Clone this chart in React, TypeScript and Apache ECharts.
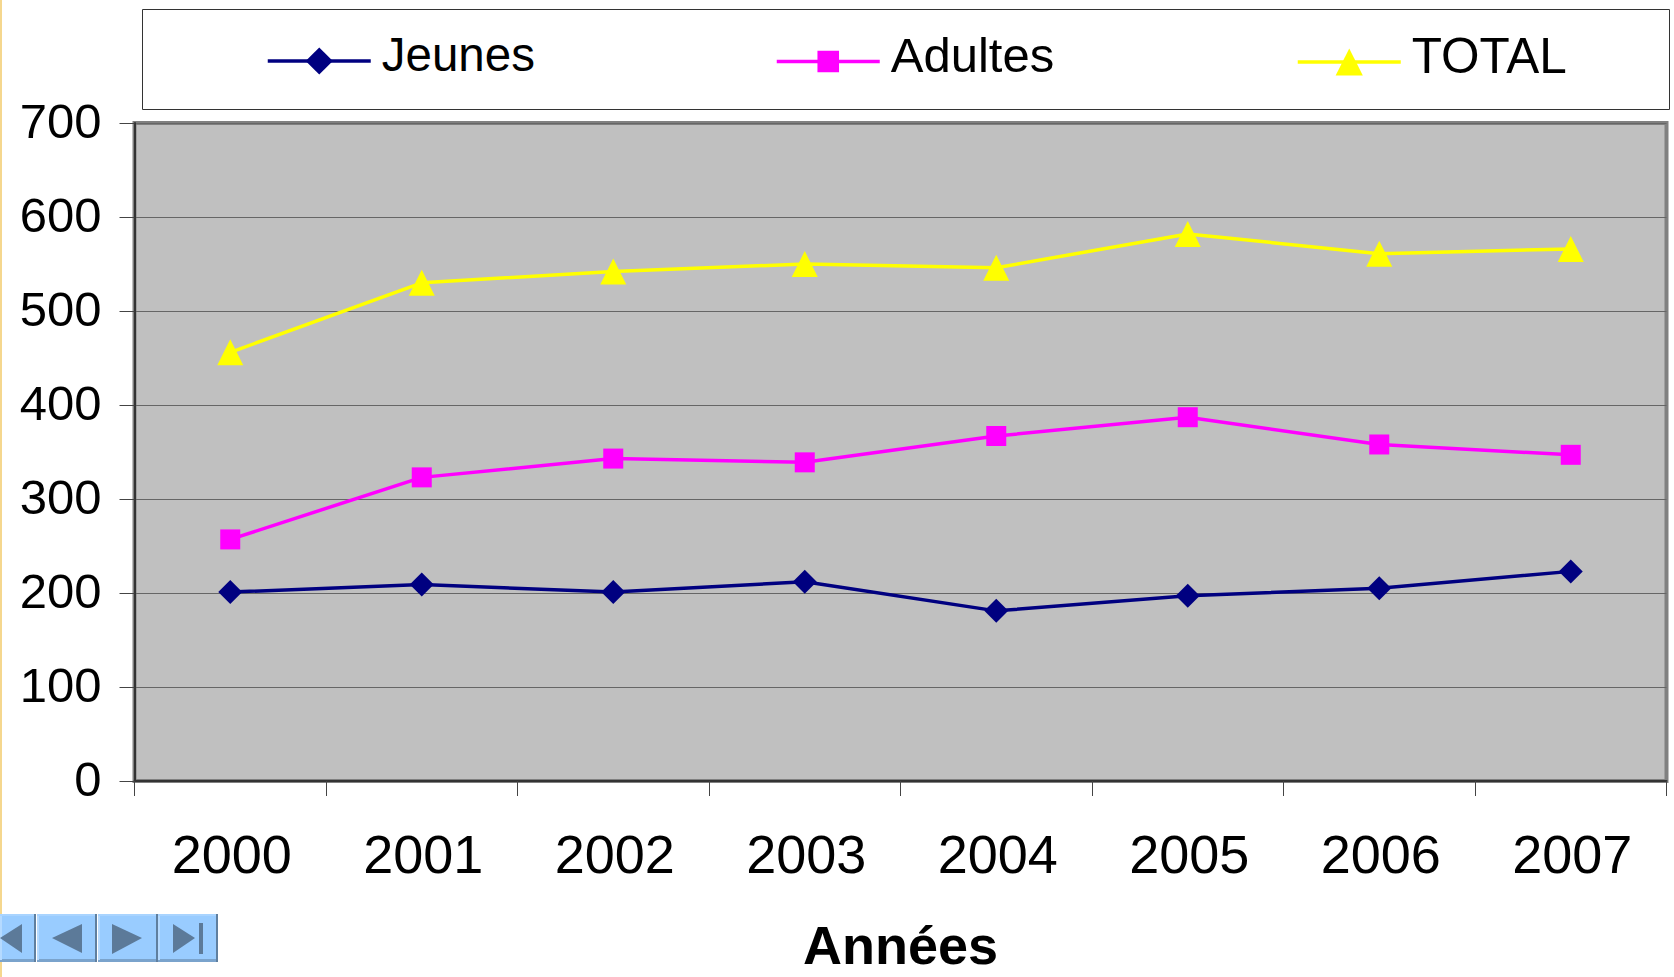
import React, { useEffect, useRef } from "react";
import * as echarts from "echarts";

const years = ["2000", "2001", "2002", "2003", "2004", "2005", "2006", "2007"];
const jeunes = [201, 209, 201, 212, 181, 197, 205, 223];
const adultes = [257, 323, 343, 339, 367, 387, 358, 347];
const total = [456, 530, 542, 550, 546, 582, 561, 566];
const FONT = "'Liberation Sans', Arial, sans-serif";

const rect = (x: number, y: number, w: number, h: number, fill: string, z = 5) => ({
  type: "rect", z, shape: { x, y, width: w, height: h }, style: { fill },
});
const poly = (points: number[][], fill: string) => ({
  type: "polygon", z: 7, shape: { points }, style: { fill },
});
const button = (x: number, w: number) => [
  rect(x, 914, w, 48, "#99CCFF"),
  rect(x, 914, w, 2, "#A9D4FF", 6),
  rect(x, 959, w, 3, "#7AA3CC", 6),
  rect(x + w - 2, 914, 2, 48, "#5F7F9F", 6),
  rect(x, 916, 2, 44, "#B5DAFF", 6),
];
const legendItem = (name: string, left: number, fontSize: number, itemHeight: number) => ({
  left, top: 30, padding: 0, itemGap: 0, itemWidth: 103, itemHeight,
  lineStyle: { width: 3.5 },
  formatter: "{a|{name}}",
  textStyle: {
    fontFamily: FONT, fontSize, color: "#000",
    rich: { a: { fontFamily: FONT, fontSize, color: "#000", padding: [0, 0, 14, 6] } },
  },
  data: [{ name }],
});

export default function App() {
  const ref = useRef<HTMLDivElement>(null);
  useEffect(() => {
    const chart = echarts.init(ref.current!, null, { renderer: "svg" });
    const makeSeries = (name: string, data: number[], color: string, symbol: string, symbolSize: number) => ({
      name, type: "line", data, symbol, symbolSize, showSymbol: true,
      lineStyle: { color, width: 3.5 }, itemStyle: { color }, z: 4,
    });
    chart.setOption({
      animation: false,
      backgroundColor: "#ffffff",
      textStyle: { fontFamily: FONT },
      legend: [
        legendItem("Jeunes", 266, 47.5, 34),
        legendItem("Adultes", 775, 49, 27),
        legendItem("TOTAL", 1296, 49.5, 34),
      ],
      grid: {
        left: 134.5, top: 123, width: 1532, height: 658, outerBoundsMode: "none", containLabel: false,
        show: true, backgroundColor: "#C0C0C0", borderColor: "#808080", borderWidth: 4,
      },
      xAxis: {
        type: "category", data: years, boundaryGap: true,
        name: "Années", nameLocation: "middle", nameGap: 136.5, nameMoveOverlap: false,
        nameTextStyle: { fontFamily: FONT, fontSize: 54, fontWeight: "bold", color: "#000" },
        axisLine: { show: true, lineStyle: { color: "#333", width: 2 } },
        axisTick: { show: true, alignWithLabel: false, length: 15, lineStyle: { color: "#444", width: 1 } },
        axisLabel: { fontFamily: FONT, fontSize: 54, color: "#000", margin: 46, interval: 0, padding: [0, 0, 0, 3] },
        splitLine: { show: false },
      },
      yAxis: {
        type: "value", min: 0, max: 700, interval: 100,
        axisLine: { show: true, lineStyle: { color: "#333", width: 2 } },
        axisTick: { show: true, length: 15, lineStyle: { color: "#444", width: 1 } },
        axisLabel: {
          fontFamily: FONT, fontSize: 49, color: "#000", margin: 33,
          formatter: "{a|{value}}",
          rich: { a: { fontFamily: FONT, fontSize: 49, color: "#000", padding: [0, 0, 4, 0] } },
        },
        splitLine: { show: true, lineStyle: { color: "#666", width: 1 } },
      },
      series: [
        makeSeries("Jeunes", jeunes, "#000080", "diamond", 24),
        makeSeries("Adultes", adultes, "#FF00FF", "rect", 20),
        makeSeries("TOTAL", total, "#FFFF00", "triangle", 26),
      ],
      graphic: [
        { type: "rect", z: 0, shape: { x: 142.5, y: 9.5, width: 1527, height: 100 }, style: { fill: "#fff", stroke: "#333", lineWidth: 1 } },
        rect(0, 0, 2, 977, "#F5D78E", 1),
        ...button(0, 36), ...button(37, 60), ...button(98, 60), ...button(158, 60),
        poly([[0, 938], [22, 924], [22, 953]], "#5C7A99"),
        poly([[52, 938], [82, 924], [82, 953]], "#5C7A99"),
        poly([[112, 924], [142, 938], [112, 954]], "#5C7A99"),
        poly([[173, 924], [195, 938], [173, 953]], "#5C7A99"),
        rect(199, 923, 4, 31, "#5C7A99", 7),
      ],
    });
    return () => chart.dispose();
  }, []);
  return <div ref={ref} style={{ position: "absolute", left: 0, top: 0, width: 1674, height: 977 }} />;
}
